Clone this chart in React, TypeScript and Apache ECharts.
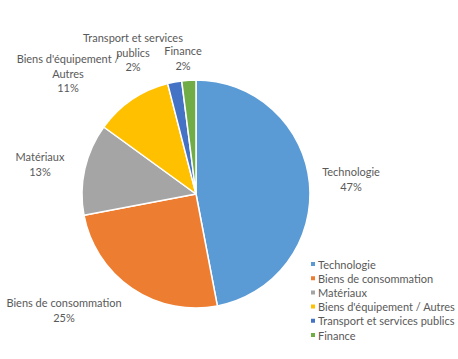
import React, { useEffect, useRef } from "react";
import * as echarts from "echarts";

const categories = [
  "Technologie",
  "Biens de consommation",
  "Matériaux",
  "Biens d'équipement / Autres",
  "Transport et services publics",
  "Finance",
];
const labelTexts = [
  "Technologie",
  "Biens de consommation",
  "Matériaux",
  "Biens d'équipement /\nAutres",
  "Transport et services\npublics",
  "Finance",
];
const values = [47, 25, 13, 11, 2, 2];
const colors = ["#5B9BD5", "#ED7D31", "#A5A5A5", "#FFC000", "#4472C4", "#70AD47"];
// label anchor positions (layout, not data)
const labelPos: [number, number][] = [
  [351, 179],
  [64, 310],
  [40, 164],
  [68, 73],
  [133, 52],
  [183, 58],
];

export default function App() {
  const ref = useRef<HTMLDivElement>(null);
  useEffect(() => {
    if (!ref.current) return;
    const chart = echarts.init(ref.current, null, { renderer: "svg" });
    const font = "Lato, 'Open Sans', sans-serif";
    chart.setOption({
      animation: false,
      backgroundColor: "#ffffff",
      color: colors,
      legend: {
        orient: "vertical",
        left: 304,
        top: 252,
        icon: "rect",
        itemWidth: 6,
        itemHeight: 6,
        itemGap: 0.2,
        data: categories,
        textStyle: {
          fontFamily: font,
          fontSize: 11,
          color: "#595959",
          lineHeight: 14,
          padding: [0, 0, 0, -3],
        },
      },
      series: [
        {
          type: "pie",
          center: [196, 194],
          radius: 114,
          startAngle: 90,
          clockwise: true,
          avoidLabelOverlap: false,
          itemStyle: { borderColor: "#ffffff", borderWidth: 1.5 },
          label: {
            show: true,
            position: "outside",
            overflow: "none",
            fontFamily: font,
            fontSize: 11,
            lineHeight: 14.5,
            color: "#595959",
            formatter: (p: any) => `${labelTexts[p.dataIndex]}\n${p.value}%`,
          },
          labelLine: { show: false },
          labelLayout: (p: any) => ({
            x: labelPos[p.dataIndex][0],
            y: labelPos[p.dataIndex][1],
            align: "center",
            verticalAlign: "middle",
          }),
          data: categories.map((c, i) => ({ name: c, value: values[i] })),
        },
      ],
    });
    return () => chart.dispose();
  }, []);
  return (
    <div
      ref={ref}
      style={{ position: "fixed", left: 0, top: 0, width: 458, height: 359 }}
    />
  );
}
